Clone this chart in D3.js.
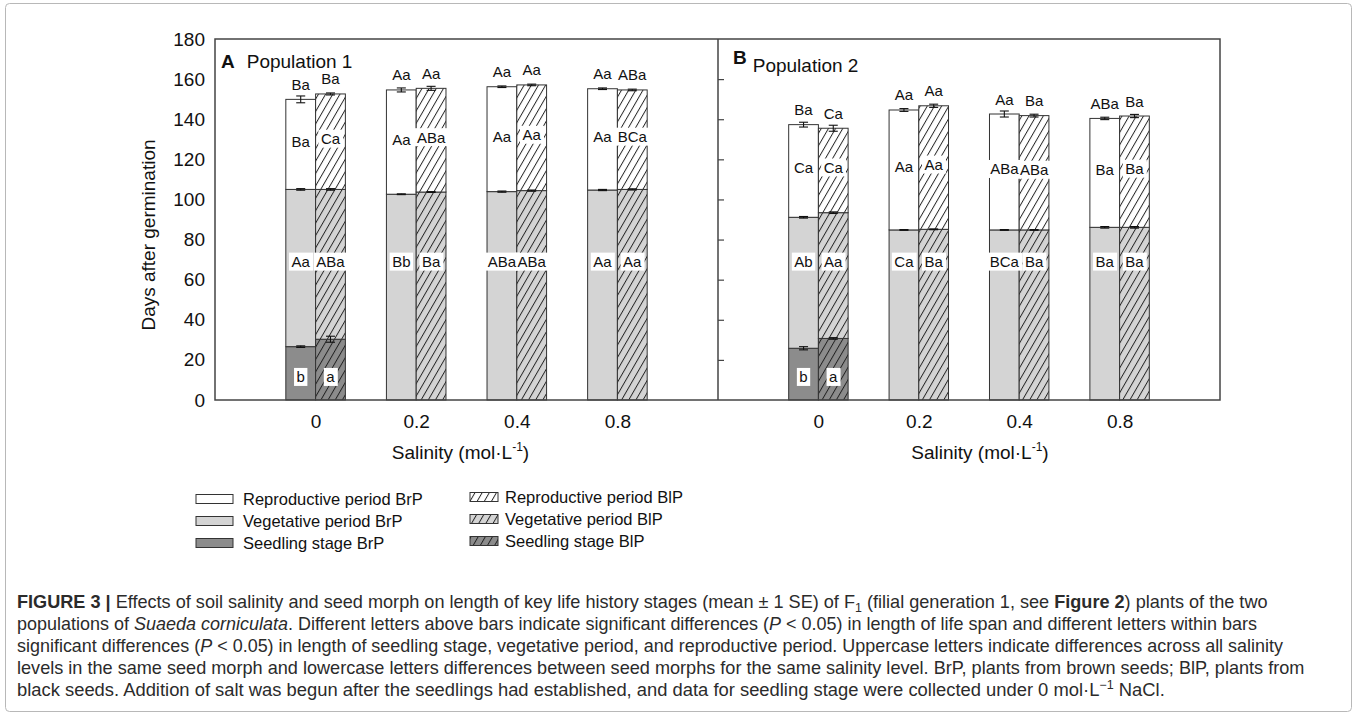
<!DOCTYPE html>
<html>
<head>
<meta charset="utf-8">
<script src="https://cdn.jsdelivr.net/npm/d3@7"></script>
<style>
  body { margin: 0; background: #fff; }
  svg { display: block; font-family: "Liberation Sans", Arial, sans-serif; }
</style>
</head>
<body>
<div id="chart"></div>
<script>
// x categories and y ticks
const salinity = ["0", "0.2", "0.4", "0.8"];
const yTicks = [0, 20, 40, 60, 80, 100, 120, 140, 160, 180];

// Population 1 - end of each stage, days after germination (seedling stage only at 0)
const p1BrPSeedling = [26.6, null, null, null];
const p1BrPSeedlingSE = [0.4, null, null, null];
const p1BrPVegetative = [105.0, 102.6, 103.9, 104.7];
const p1BrPVegetativeSE = [0.4, 0.2, 0.3, 0.3];
const p1BrPTotal = [149.9, 154.6, 156.2, 155.2];
const p1BrPTotalSE = [1.7, 1.0, 0.4, 0.4];
const p1BlPSeedling = [30.3, null, null, null];
const p1BlPSeedlingSE = [1.5, null, null, null];
const p1BlPVegetative = [105.0, 103.7, 104.4, 105.0];
const p1BlPVegetativeSE = [0.4, 0.2, 0.3, 0.3];
const p1BlPTotal = [152.6, 155.4, 157.1, 154.6];
const p1BlPTotalSE = [0.5, 1.0, 0.4, 0.4];

// Population 1 - letters
const p1BrPTopLetters = ["Ba", "Aa", "Aa", "Aa"];
const p1BlPTopLetters = ["Ba", "Aa", "Aa", "ABa"];
const p1BrPReproLetters = ["Ba", "Aa", "Aa", "Aa"];
const p1BlPReproLetters = ["Ca", "ABa", "Aa", "BCa"];
const p1BrPVegLetters = ["Aa", "Bb", "ABa", "Aa"];
const p1BlPVegLetters = ["ABa", "Ba", "ABa", "Aa"];
const p1BrPSeedLetters = ["b", null, null, null];
const p1BlPSeedLetters = ["a", null, null, null];

// Population 2 - end of each stage, days after germination
const p2BrPSeedling = [25.8, null, null, null];
const p2BrPSeedlingSE = [0.8, null, null, null];
const p2BrPVegetative = [91.1, 84.8, 84.8, 86.1];
const p2BrPVegetativeSE = [0.4, 0.2, 0.2, 0.4];
const p2BrPTotal = [137.3, 144.6, 142.6, 140.4];
const p2BrPTotalSE = [1.2, 0.7, 1.5, 0.6];
const p2BlPSeedling = [30.7, null, null, null];
const p2BlPSeedlingSE = [0.4, null, null, null];
const p2BlPVegetative = [93.4, 85.1, 84.8, 86.1];
const p2BlPVegetativeSE = [0.4, 0.2, 0.2, 0.4];
const p2BlPTotal = [135.5, 146.7, 141.8, 141.6];
const p2BlPTotalSE = [1.5, 0.8, 0.7, 0.8];

// Population 2 - letters
const p2BrPTopLetters = ["Ba", "Aa", "Aa", "ABa"];
const p2BlPTopLetters = ["Ca", "Aa", "Ba", "Ba"];
const p2BrPReproLetters = ["Ca", "Aa", "ABa", "Ba"];
const p2BlPReproLetters = ["Ca", "Aa", "ABa", "Ba"];
const p2BrPVegLetters = ["Ab", "Ca", "BCa", "Ba"];
const p2BlPVegLetters = ["Aa", "Ba", "Ba", "Ba"];
const p2BrPSeedLetters = ["b", null, null, null];
const p2BlPSeedLetters = ["a", null, null, null];

const legendStages = ["Reproductive period", "Vegetative period", "Seedling stage"];

// build bar records for one morph
function morph(name, seed, seedSE, veg, vegSE, total, totalSE, topL, repro, vegL, seedL) {
  return salinity.map((s, i) => ({
    salinity: s, morph: name,
    seed: seed[i], seedSE: seedSE[i],
    veg: veg[i], vegSE: vegSE[i],
    total: total[i], totalSE: totalSE[i],
    topL: topL[i], repro: repro[i], vegL: vegL[i], seedL: seedL[i]
  }));
}

const panels = [
  { id: "A", name: "Population 1", range: [215, 718],
    bars: morph("BrP", p1BrPSeedling, p1BrPSeedlingSE, p1BrPVegetative, p1BrPVegetativeSE, p1BrPTotal, p1BrPTotalSE,
                p1BrPTopLetters, p1BrPReproLetters, p1BrPVegLetters, p1BrPSeedLetters)
      .concat(morph("BlP", p1BlPSeedling, p1BlPSeedlingSE, p1BlPVegetative, p1BlPVegetativeSE, p1BlPTotal, p1BlPTotalSE,
                p1BlPTopLetters, p1BlPReproLetters, p1BlPVegLetters, p1BlPSeedLetters)) },
  { id: "B", name: "Population 2", range: [718, 1220],
    bars: morph("BrP", p2BrPSeedling, p2BrPSeedlingSE, p2BrPVegetative, p2BrPVegetativeSE, p2BrPTotal, p2BrPTotalSE,
                p2BrPTopLetters, p2BrPReproLetters, p2BrPVegLetters, p2BrPSeedLetters)
      .concat(morph("BlP", p2BlPSeedling, p2BlPSeedlingSE, p2BlPVegetative, p2BlPVegetativeSE, p2BlPTotal, p2BlPTotalSE,
                p2BlPTopLetters, p2BlPReproLetters, p2BlPVegLetters, p2BlPSeedLetters)) }
];

const W = 1357, H = 726;
const plotTop = 39, plotBottom = 400;
const stageFill = { repro: "#ffffff", veg: "#d4d4d4", seed: "#8c8c8c" };

const svg = d3.select("#chart").append("svg")
  .attr("width", W).attr("height", H)
  .attr("viewBox", [0, 0, W, H]);

// outer figure border
svg.append("rect")
  .attr("x", 5.5).attr("y", 3.5).attr("width", W - 11).attr("height", 708)
  .attr("rx", 4).attr("fill", "none").attr("stroke", "#b8b8b8").attr("stroke-width", 1);

// hatch patterns for BlP
const defs = svg.append("defs");
Object.entries(stageFill).forEach(([key, col]) => {
  const p = defs.append("pattern")
    .attr("id", "hatch-" + key)
    .attr("patternUnits", "userSpaceOnUse")
    .attr("width", 6.2).attr("height", 10)
    .attr("patternTransform", "rotate(30)");
  p.append("rect").attr("width", 6.2).attr("height", 10).attr("fill", col);
  p.append("line").attr("x1", 0.5).attr("x2", 0.5).attr("y1", 0).attr("y2", 10)
    .attr("stroke", "#1a1a1a").attr("stroke-width", 0.9);
});

function fillFor(m, stage) {
  return m === "BrP" ? stageFill[stage] : `url(#hatch-${stage})`;
}

const y = d3.scaleLinear().domain([0, 180]).range([plotBottom, plotTop]);

panels.forEach((panel, pi) => {
  const x = d3.scalePoint().domain(salinity).range(panel.range).padding(1);
  const half = x.step() * 0.296;
  const xm = d3.scaleBand().domain(["BrP", "BlP"]).range([-half, half]);
  const g = svg.append("g");

  // segments
  const segs = [];
  panel.bars.forEach(d => {
    const bx = x(d.salinity) + xm(d.morph);
    const base = d.seed == null ? 0 : d.seed;
    if (d.seed != null) segs.push({ d, bx, y0: 0, y1: d.seed, stage: "seed" });
    segs.push({ d, bx, y0: base, y1: d.veg, stage: "veg" });
    segs.push({ d, bx, y0: d.veg, y1: d.total, stage: "repro" });
  });

  g.selectAll("rect.seg").data(segs).join("rect")
    .attr("class", "seg")
    .attr("x", s => s.bx)
    .attr("y", s => y(s.y1))
    .attr("width", xm.bandwidth())
    .attr("height", s => y(s.y0) - y(s.y1))
    .attr("fill", s => fillFor(s.d.morph, s.stage))
    .attr("stroke", "#333").attr("stroke-width", 1);

  // error bars
  const errs = [];
  panel.bars.forEach(d => {
    const cx = x(d.salinity) + xm(d.morph) + xm.bandwidth() / 2;
    if (d.seed != null) errs.push({ cx, v: d.seed, se: d.seedSE });
    errs.push({ cx, v: d.veg, se: d.vegSE });
    errs.push({ cx, v: d.total, se: d.totalSE });
  });
  const eg = g.selectAll("g.err").data(errs).join("g").attr("class", "err")
    .attr("stroke", "#111").attr("stroke-width", 1.1);
  eg.append("line").attr("x1", e => e.cx).attr("x2", e => e.cx)
    .attr("y1", e => y(e.v - e.se)).attr("y2", e => y(e.v + e.se));
  eg.append("line").attr("x1", e => e.cx - 4.5).attr("x2", e => e.cx + 4.5)
    .attr("y1", e => y(e.v + e.se)).attr("y2", e => y(e.v + e.se));
  eg.append("line").attr("x1", e => e.cx - 4.5).attr("x2", e => e.cx + 4.5)
    .attr("y1", e => y(e.v - e.se)).attr("y2", e => y(e.v - e.se));

  // letters above bars
  g.selectAll("text.top").data(panel.bars).join("text")
    .attr("class", "top")
    .attr("x", d => x(d.salinity) + xm(d.morph) + xm.bandwidth() / 2)
    .attr("y", d => y(d.total) - 15)
    .attr("text-anchor", "middle").attr("dominant-baseline", "central")
    .attr("font-size", 15).attr("fill", "#111")
    .text(d => d.topL);

  // letters inside bars: white boxes first, then all texts on top
  const inner = [];
  panel.bars.forEach(d => {
    const cx = x(d.salinity) + xm(d.morph) + xm.bandwidth() / 2;
    inner.push({ cx, cy: (y(d.veg) + y(d.total)) / 2 - 3, t: d.repro });
    inner.push({ cx, cy: y(69), t: d.vegL });
    if (d.seedL) inner.push({ cx, cy: y(11.5), t: d.seedL });
  });
  const boxLayer = g.append("g");
  const textLayer = g.append("g");
  textLayer.selectAll("text").data(inner).join("text")
    .attr("x", l => l.cx).attr("y", l => l.cy)
    .attr("text-anchor", "middle").attr("dominant-baseline", "central")
    .attr("font-size", 15).attr("fill", "#111")
    .text(l => l.t)
    .each(function (l) { l.bb = this.getBBox(); });
  boxLayer.selectAll("rect").data(inner).join("rect")
    .attr("fill", "#fff")
    .attr("x", l => l.bb.x - 2.5).attr("width", l => l.bb.width + 5)
    .attr("y", l => l.cy - 9).attr("height", 18);

  // x axis labels
  const xAxis = svg.append("g").attr("transform", `translate(0,${plotBottom})`)
    .call(d3.axisBottom(x).tickSize(0).tickPadding(15));
  xAxis.select(".domain").remove();
  xAxis.selectAll("text").attr("font-size", 19).attr("fill", "#111")
    .attr("font-family", "Liberation Sans, Arial, sans-serif");

  // x axis title
  const cx = (panel.range[0] + panel.range[1]) / 2 + (pi === 0 ? -6 : 11);
  const xt = svg.append("text").attr("x", cx).attr("y", 459)
    .attr("text-anchor", "middle").attr("font-size", 19).attr("fill", "#111");
  xt.append("tspan").text("Salinity (mol·L");
  xt.append("tspan").attr("font-size", 12).attr("dy", -8).text("-1");
  xt.append("tspan").attr("dy", 8).text(")");

  // panel label
  const lt = svg.append("text")
    .attr("x", panel.range[0] + (pi === 0 ? 6 : 15)).attr("y", pi === 0 ? 68 : 64)
    .attr("font-size", 19).attr("fill", "#111");
  lt.append("tspan").attr("font-weight", "bold").text(panel.id);
  lt.append("tspan").attr("dx", pi === 0 ? 12 : 6).attr("dy", pi === 0 ? 0 : 8).text(panel.name);
});

// y axis on the left of panel A
const yAxis = svg.append("g").attr("transform", "translate(215,0)")
  .call(d3.axisLeft(y).tickValues(yTicks).tickSize(0).tickPadding(10));
yAxis.select(".domain").remove();
yAxis.selectAll("text").attr("font-size", 19).attr("fill", "#111")
  .attr("font-family", "Liberation Sans, Arial, sans-serif");

// inward ticks on panel B's left edge
const yAxisB = svg.append("g").attr("transform", "translate(718,0)")
  .call(d3.axisRight(y).tickValues(yTicks.slice(1, -1)).tickSize(6).tickFormat(""));
yAxisB.select(".domain").remove();
yAxisB.selectAll("line").attr("stroke", "#444").attr("stroke-width", 1.2);

svg.append("text")
  .attr("transform", "translate(148,235) rotate(-90)")
  .attr("text-anchor", "middle").attr("dominant-baseline", "central")
  .attr("font-size", 19).attr("fill", "#111")
  .text("Days after germination");

// frame
svg.append("rect").attr("x", 215).attr("y", plotTop).attr("width", 1220 - 215).attr("height", plotBottom - plotTop)
  .attr("fill", "none").attr("stroke", "#444").attr("stroke-width", 1.5);
svg.append("line").attr("x1", 718).attr("x2", 718).attr("y1", plotTop).attr("y2", plotBottom)
  .attr("stroke", "#444").attr("stroke-width", 1.5);

// legend
const legendCols = [
  { morph: "BrP", bx: 196, bw: 37, tx: 243, rows: [499, 521, 543] },
  { morph: "BlP", bx: 470, bw: 28, tx: 505, rows: [497, 519, 541] }
];
const stageKeys = ["repro", "veg", "seed"];
legendCols.forEach(col => {
  const lg = svg.append("g");
  lg.selectAll("rect").data(stageKeys).join("rect")
    .attr("x", col.bx).attr("y", (k, i) => col.rows[i] - 4.5)
    .attr("width", col.bw).attr("height", 9)
    .attr("fill", k => fillFor(col.morph, k))
    .attr("stroke", "#333").attr("stroke-width", 1);
  lg.selectAll("text").data(legendStages).join("text")
    .attr("x", col.tx).attr("y", (t, i) => col.rows[i])
    .attr("dominant-baseline", "central")
    .attr("font-size", 16.5).attr("fill", "#111")
    .text(t => `${t} ${col.morph}`);
});

// caption, one entry per line: [text, style]
const captionLines = [
  [["FIGURE 3 | ", "b"], ["Effects of soil salinity and seed morph on length of key life history stages (mean ± 1 SE) of F"], ["1", "sub"],
   [" (filial generation 1, see "], ["Figure 2", "b"], [") plants of the two"]],
  [["populations of "], ["Suaeda corniculata", "i"], [". Different letters above bars indicate significant differences ("], ["P", "i"],
   [" < 0.05) in length of life span and different letters within bars"]],
  [["significant differences ("], ["P", "i"], [" < 0.05) in length of seedling stage, vegetative period, and reproductive period. Uppercase letters indicate differences across all salinity"]],
  [["levels in the same seed morph and lowercase letters differences between seed morphs for the same salinity level. BrP, plants from brown seeds; BlP, plants from"]],
  [["black seeds. Addition of salt was begun after the seedlings had established, and data for seedling stage were collected under 0 mol·L"], ["−1", "sup"], [" NaCl."]]
];
const captionEnds = [1269, 1258, 1284, 1306, 1165];
const captionX = 17;
captionLines.forEach((parts, i) => {
  const t = svg.append("text").attr("x", 0).attr("y", 0)
    .attr("font-family", "'Liberation Sans Narrow', 'Liberation Sans', Arial, sans-serif")
    .attr("font-size", 17.5).attr("fill", "#2b2b2b");
  let shift = 0;
  parts.forEach(([txt, st]) => {
    const ts = t.append("tspan").text(txt);
    let dy = 0;
    if (st === "b") ts.attr("font-weight", "bold");
    if (st === "i") ts.attr("font-style", "italic");
    if (st === "sub") { ts.attr("font-size", 12); dy = 4; }
    if (st === "sup") { ts.attr("font-size", 12); dy = -7; }
    ts.attr("dy", dy - shift);
    shift = dy;
  });
  const w = t.node().getComputedTextLength();
  const k = (captionEnds[i] - captionX) / w;
  t.attr("transform", `translate(${captionX},${608 + i * 22}) scale(${k},1)`);
});
</script>
</body>
</html>
